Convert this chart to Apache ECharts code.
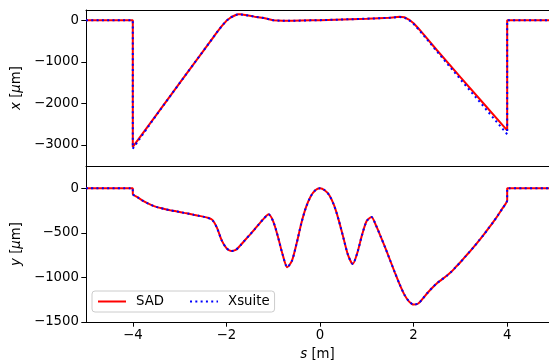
<!DOCTYPE html>
<html>
<head>
<meta charset="utf-8">
<script src="https://cdn.jsdelivr.net/npm/echarts@6/dist/echarts.min.js"></script>
<style>
html, body { margin: 0; padding: 0; background: #fff; }
#chart { width: 549px; height: 362px; }
</style>
</head>
<body>
<div id="chart"></div>
<script>
// top panel: x [um] along s [m]
var sTop = [-5, -4, -4, -3.5, -3, -2.5, -2.3, -2.2, -2.1, -2.0, -1.9, -1.8, -1.75, -1.7, -1.6, -1.5, -1.4, -1.2, -1.0, -0.8, -0.6, -0.4, -0.2, 0, 0.5, 1.0, 1.5, 1.7, 1.8, 1.9, 2.0, 2.1, 2.2, 2.5, 3.0, 3.5, 4.0, 4.0, 5];
var xSad = [0, 0, -3050, -2282, -1514, -746, -439, -285, -140, -10, 75, 130, 148, 145, 128, 110, 90, 55, 5, -12, -10, -5, 0, 5, 22, 40, 65, 85, 75, 20, -70, -190, -320, -720, -1370, -2010, -2650, 0, 0];
var xXsuite = [0, 0, -3090, -2290, -1514, -746, -439, -285, -140, -10, 75, 130, 148, 145, 128, 110, 90, 55, 5, -12, -10, -5, 0, 5, 22, 40, 62, 80, 68, 10, -85, -210, -340, -750, -1420, -2080, -2745, 0, 0];

// bottom panel: y [um] along s [m]
var sBot = [-5, -4, -4, -3.9, -3.8, -3.7, -3.6, -3.5, -3.4, -3.3, -3.2, -3.1, -3.0, -2.9, -2.8, -2.7, -2.6, -2.5, -2.4, -2.3, -2.2, -2.1, -2.0, -1.9, -1.8, -1.7, -1.6, -1.5, -1.4, -1.3, -1.2, -1.1, -1.0, -0.9, -0.8, -0.7, -0.6, -0.5, -0.4, -0.3, -0.2, -0.1, 0, 0.1, 0.2, 0.3, 0.4, 0.5, 0.6, 0.7, 0.8, 0.9, 1.0, 1.1, 1.2, 1.3, 1.4, 1.5, 1.6, 1.7, 1.8, 1.9, 2.0, 2.1, 2.2, 2.3, 2.4, 2.5, 2.6, 2.7, 2.8, 2.9, 3.0, 3.1, 3.2, 3.3, 3.4, 3.5, 3.6, 3.7, 3.8, 3.9, 4.0, 4.0, 5];
var ySad = [0, 0, -64, -100, -135, -163, -188, -208, -222, -235, -246, -256, -266, -276, -286, -297, -307, -318, -330, -355, -445, -585, -672, -703, -692, -640, -580, -522, -462, -400, -340, -292, -370, -540, -740, -885, -815, -620, -395, -215, -92, -22, 0, -22, -78, -190, -357, -555, -750, -850, -720, -520, -365, -322, -420, -545, -675, -810, -945, -1075, -1190, -1268, -1305, -1292, -1235, -1172, -1115, -1065, -1025, -985, -940, -885, -830, -770, -710, -650, -585, -520, -450, -380, -305, -225, -135, 0, 0];
var yXsuite = [0, 0, -64, -100, -135, -163, -188, -208, -222, -235, -246, -256, -266, -276, -286, -297, -307, -318, -330, -355, -445, -585, -672, -703, -692, -640, -580, -522, -462, -400, -340, -292, -370, -540, -740, -885, -815, -620, -395, -215, -92, -22, 0, -22, -78, -190, -357, -555, -750, -850, -720, -520, -365, -322, -420, -545, -675, -810, -945, -1075, -1190, -1268, -1305, -1292, -1235, -1172, -1115, -1065, -1025, -985, -940, -885, -830, -770, -710, -650, -585, -520, -450, -380, -305, -225, -135, 0, 0];

var sTicks = [-4, -2, 0, 2, 4];
var xTicks = [-3000, -2000, -1000, 0];
var yTicks = [-1500, -1000, -500, 0];

var font = 'DejaVu Sans';
var fs = 13.3;
var sMax = -5 + 465 / 47;

function pairs(s, v) {
  return s.map(function (a, i) { return [a, v[i]]; });
}
function fmt(v) {
  return v < 0 ? '\u2212' + (-v) : String(v);
}

var spine = { show: true, onZero: false, lineStyle: { color: '#000', width: 1 } };
var rich = { i: { fontStyle: 'italic', fontSize: fs, fontFamily: font, color: '#000' } };
var nameStyle = { fontSize: fs, fontFamily: font, color: '#000', rich: rich };

function yAx(grid, min, ticks, name) {
  return {
    gridIndex: grid, type: 'value', min: min, max: 250,
    axisLine: spine,
    axisTick: { show: true, length: 4.7, customValues: ticks, lineStyle: { color: '#000', width: 1 } },
    axisLabel: { customValues: ticks, formatter: fmt, margin: 7, fontSize: fs, fontFamily: font, color: '#000' },
    splitLine: { show: false },
    name: name, nameLocation: 'middle', nameGap: 62, nameRotate: 90, nameTextStyle: nameStyle
  };
}

var myChart = echarts.init(document.getElementById('chart'));
var option = {
  animation: false,
  backgroundColor: '#fff',
  grid: [
    { left: 86, top: 10, width: 465, height: 156 },
    { left: 86, top: 166, width: 465, height: 156 }
  ],
  xAxis: [
    { gridIndex: 0, type: 'value', min: -5, max: sMax, position: 'bottom', axisLine: spine,
      axisTick: { show: false }, axisLabel: { show: false }, splitLine: { show: false } },
    { gridIndex: 0, type: 'value', min: -5, max: sMax, position: 'top', axisLine: spine,
      axisTick: { show: false }, axisLabel: { show: false }, splitLine: { show: false } },
    { gridIndex: 1, type: 'value', min: -5, max: sMax, position: 'bottom', axisLine: spine,
      axisTick: { show: true, length: 4.7, customValues: sTicks, lineStyle: { color: '#000', width: 1 } },
      axisLabel: { customValues: sTicks, formatter: fmt, margin: 7, fontSize: fs, fontFamily: font, color: '#000' },
      splitLine: { show: false },
      name: '{i|s} [m]', nameLocation: 'middle', nameGap: 26, nameTextStyle: nameStyle }
  ],
  yAxis: [
    yAx(0, -3510, xTicks, '{i|x} [{i|\u03bc}m]'),
    yAx(1, -1500, yTicks, '{i|y} [{i|\u03bc}m]')
  ],
  legend: {
    left: 92, top: 291,
    padding: [4, 5, 4, 5],
    itemWidth: 28, itemHeight: 14, itemGap: 25,
    borderColor: '#cccccc', borderWidth: 1, borderRadius: 3,
    backgroundColor: 'rgba(255,255,255,0.8)',
    itemStyle: { opacity: 0 },
    textStyle: { fontSize: fs, fontFamily: font, color: '#000', padding: [0, 0, 0, 5] },
    data: ['SAD', 'Xsuite']
  },
  series: [
    { name: 'SAD', type: 'line', xAxisIndex: 0, yAxisIndex: 0, data: pairs(sTop, xSad),
      symbol: 'none', lineStyle: { color: 'red', width: 2 }, itemStyle: { color: 'red' } },
    { name: 'Xsuite', type: 'line', xAxisIndex: 0, yAxisIndex: 0, data: pairs(sTop, xXsuite),
      symbol: 'none', lineStyle: { color: 'blue', width: 2, type: [2, 3.3] }, itemStyle: { color: 'blue' } },
    { name: 'SAD', type: 'line', xAxisIndex: 2, yAxisIndex: 1, data: pairs(sBot, ySad), smooth: 0.25,
      symbol: 'none', lineStyle: { color: 'red', width: 2 }, itemStyle: { color: 'red' } },
    { name: 'Xsuite', type: 'line', xAxisIndex: 2, yAxisIndex: 1, data: pairs(sBot, yXsuite), smooth: 0.25,
      symbol: 'none', lineStyle: { color: 'blue', width: 2, type: [2, 3.3] }, itemStyle: { color: 'blue' } }
  ]
};
myChart.setOption(option);
</script>
</body>
</html>
